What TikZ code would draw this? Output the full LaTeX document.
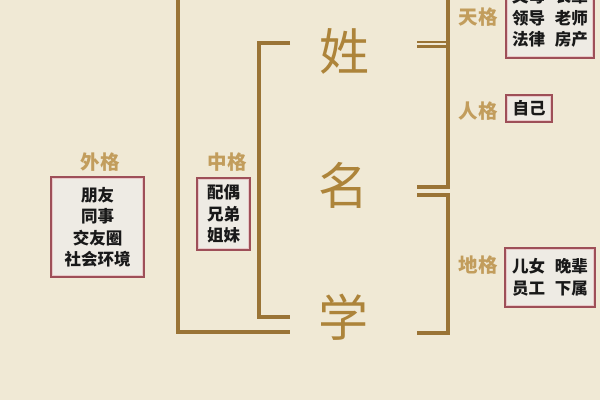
\documentclass[tikz,border=0pt]{standalone}
\usepackage{fontspec}
\newfontfamily\cjk{Noto Sans CJK SC}
\definecolor{bg}{HTML}{F0E9D5}
\definecolor{brk}{HTML}{9A7436}
\definecolor{maincol}{HTML}{AD843A}
\definecolor{labcol}{HTML}{C29D5C}
\definecolor{boxedge}{HTML}{9E4F58}
\definecolor{boxin}{HTML}{E8C8C8}
\definecolor{boxfill}{HTML}{EEEBE4}
\tikzset{
  brline/.style={draw=brk, line width=3.2pt},
  maintext/.style={text=maincol, font=\cjk\fontsize{50}{52}\selectfont, inner sep=0pt},
  labtext/.style={text=labcol, font=\cjk\bfseries\fontsize{19.5}{21}\selectfont, inner sep=0pt},
  infobox/.style={draw=boxedge, line width=2.6pt, fill=boxfill, inner sep=0pt,
    font=\cjk\bfseries\fontsize{16.5}{21.5}\selectfont, text=black!90, align=center},
  innerline/.style={draw=boxin, line width=0.8pt}
}
\begin{document}
\begin{tikzpicture}[x=1pt,y=-1pt]
\useasboundingbox (0,0) rectangle (600,400);
\clip (0,0) rectangle (600,400);
\fill[bg] (0,0) rectangle (600,400);

% main characters
\node[maintext] (xing) at (344,51) {姓};
\node[maintext] (ming) at (343,185) {名};
\node[maintext] (xue) at (343,317) {学};

% left brackets
\coordinate (oltop) at (178,-5);
\coordinate (olcorner) at (178,332);
\coordinate (olend) at (290,332);
\draw[brline] (oltop) -- (olcorner) -- (olend);
\coordinate (iltopend) at (290,43);
\coordinate (iltop) at (259,43);
\coordinate (ilbot) at (259,317);
\coordinate (ilbotend) at (290,317);
\draw[brline] (iltopend) -- (iltop) -- (ilbot) -- (ilbotend);

% right upper bracket
\coordinate (urtop) at (448,-5);
\coordinate (urbot) at (448,187);
\coordinate (urend) at (417,187);
\draw[brline] (urtop) -- (urbot) -- (urend);
\coordinate (tickA1) at (417,42); \coordinate (tickA2) at (448,42);
\coordinate (tickB1) at (417,46.5); \coordinate (tickB2) at (448,46.5);
\draw[draw=brk, line width=2.4pt] (tickA1) -- (tickA2);
\draw[draw=brk, line width=2.4pt] (tickB1) -- (tickB2);

% right lower bracket
\coordinate (lrtopend) at (417,195);
\coordinate (lrtop) at (448,195);
\coordinate (lrbot) at (448,333);
\coordinate (lrbotend) at (417,333);
\draw[brline] (lrtopend) -- (lrtop) -- (lrbot) -- (lrbotend);

% labels
\node[labtext] (waige) at (100,162) {外格};
\node[labtext] (zhongge) at (227,162) {中格};
\node[labtext] (tiange) at (478,17) {天格};
\node[labtext] (renge) at (478,111) {人格};
\node[labtext] (dige) at (478,265) {地格};

% boxes
\node[infobox, minimum width=93pt, minimum height=100pt] (waibox) at (97.5,227)
  {朋友\\同事\\交友圈\\社会环境};
\draw[innerline] ([shift={(2.5pt,-2.5pt)}]waibox.north west) rectangle ([shift={(-2.5pt,2.5pt)}]waibox.south east);

\node[infobox, minimum width=53pt, minimum height=72pt] (zhongbox) at (223.5,214)
  {配偶\\兄弟\\姐妹};
\draw[innerline] ([shift={(2.5pt,-2.5pt)}]zhongbox.north west) rectangle ([shift={(-2.5pt,2.5pt)}]zhongbox.south east);

\node[infobox, minimum width=88pt, minimum height=80pt] (tianbox) at (550,18)
  {父母\hspace{0.6em}长辈\\领导\hspace{0.6em}老师\\法律\hspace{0.6em}房产};
\draw[innerline] ([shift={(2.5pt,-2.5pt)}]tianbox.north west) rectangle ([shift={(-2.5pt,2.5pt)}]tianbox.south east);

\node[infobox, minimum width=46pt, minimum height=27pt] (renbox) at (529,108.5)
  {自己};
\draw[innerline] ([shift={(2.5pt,-2.5pt)}]renbox.north west) rectangle ([shift={(-2.5pt,2.5pt)}]renbox.south east);

\node[infobox, minimum width=90pt, minimum height=59pt] (dibox) at (550,277.5)
  {儿女\hspace{0.6em}晚辈\\员工\hspace{0.6em}下属};
\draw[innerline] ([shift={(2.5pt,-2.5pt)}]dibox.north west) rectangle ([shift={(-2.5pt,2.5pt)}]dibox.south east);
\end{tikzpicture}
\end{document}
